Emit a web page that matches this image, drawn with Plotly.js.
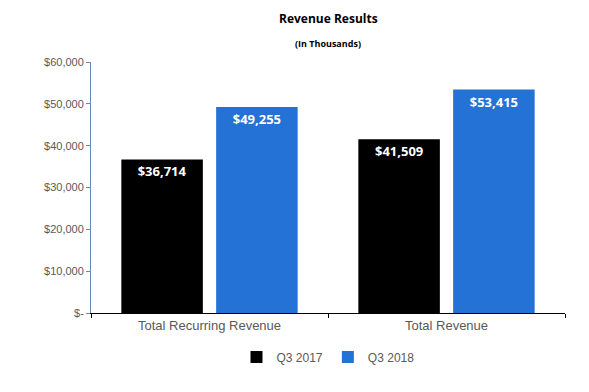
<!DOCTYPE html>
<html><head><meta charset="utf-8">
<script src="https://cdn.plot.ly/plotly-3.0.1.min.js"></script>
<style>html,body{margin:0;padding:0;background:#fff}#chart{width:589px;height:392px}</style>
</head><body><div id="chart"></div>
<script>
const categories = ["Total Recurring Revenue", "Total Revenue"];
const seriesNames = ["Q3 2017", "Q3 2018"];
const q3_2017 = [36714, 41509];
const q3_2018 = [49255, 53415];
const tickValues = [0, 10000, 20000, 30000, 40000, 50000, 60000];
const tickLabels = ["$-", "$10,000", "$20,000", "$30,000", "$40,000", "$50,000", "$60,000"];

const fmt = v => "$" + v.toLocaleString("en-US");
const baseFont = "Liberation Sans, Arial, sans-serif";
const labelFont = {family: "Open Sans, sans-serif", size: 13, color: "#ffffff", weight: 700};

const traces = [
  {type: "bar", name: seriesNames[0], x: categories, y: q3_2017, marker: {color: "#000000"},
   text: q3_2017.map(fmt), textposition: "inside", insidetextanchor: "end", textangle: 0,
   textfont: labelFont, hoverinfo: "skip", cliponaxis: false},
  {type: "bar", name: seriesNames[1], x: categories, y: q3_2018, marker: {color: "#2472D6"},
   text: q3_2018.map(fmt), textposition: "inside", insidetextanchor: "end", textangle: 0,
   textfont: labelFont, hoverinfo: "skip", cliponaxis: false}
];

const layout = {
  width: 589, height: 392,
  margin: {l: 91, r: 24, t: 62, b: 79},
  paper_bgcolor: "#ffffff", plot_bgcolor: "#ffffff",
  barmode: "group", bargap: 0.2, bargroupgap: 0.14,
  showlegend: true,
  legend: {orientation: "h", x: 0.5, xanchor: "center", y: -0.175, yanchor: "middle",
           font: {family: baseFont, size: 12, color: "#595959"}, itemwidth: 30, traceorder: "normal"},
  xaxis: {type: "category", showgrid: false, showline: true, linecolor: "#000000", linewidth: 1,
          ticks: "outside", tickson: "boundaries", ticklen: 4, tickcolor: "#000000",
          tickfont: {family: baseFont, size: 13, color: "#595959"}, zeroline: false},
  yaxis: {range: [0, 60000], tickvals: tickValues, ticktext: tickLabels, showgrid: false,
          showline: true, linecolor: "#6B86B5", linewidth: 1, ticks: "outside", ticklen: 4,
          tickcolor: "#6B86B5", zeroline: false,
          tickfont: {family: baseFont, size: 11, color: "#595959"}},
  annotations: [
    {text: "<b>Revenue Results</b>", xref: "paper", yref: "paper", x: 0.5, y: 1, yshift: 44,
     yanchor: "middle", showarrow: false, font: {family: "Open Sans, sans-serif", size: 12, color: "#000000"}},
    {text: "<b>(In Thousands)</b>", xref: "paper", yref: "paper", x: 0.5, y: 1, yshift: 19,
     yanchor: "middle", showarrow: false, font: {family: "Open Sans, sans-serif", size: 9, color: "#000000"}}
  ]
};

Plotly.newPlot("chart", traces, layout, {displayModeBar: false, staticPlot: true});
</script></body></html>
